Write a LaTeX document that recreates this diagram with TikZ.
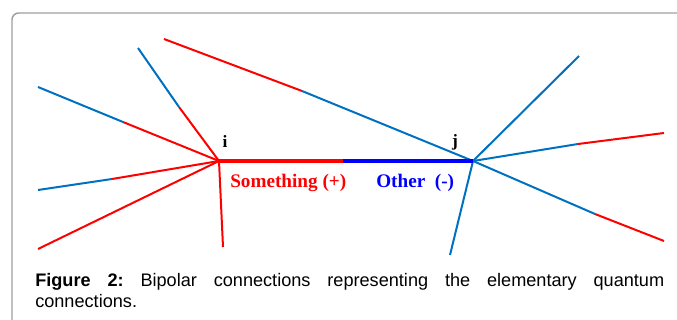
\documentclass[tikz,border=0pt]{standalone}
\usepackage{fontspec}
\setmainfont{Liberation Serif}
\setsansfont{Liberation Sans}
\usepackage{tikz}
\usetikzlibrary{calc,positioning}
\definecolor{linjeblaa}{RGB}{0,112,192}
\tikzset{
    roed/.style={
           draw=red,
           line width=1.5pt},
    blaa/.style={
           draw=linjeblaa,
           line width=1.5pt},
    midt/.style={
           line width=2.4pt},
    etikett/.style={
           font=\fontsize{14.4pt}{16pt}\selectfont\bfseries,
           inner sep=0pt},
    bokstav/.style={
           font=\fontsize{13pt}{15pt}\selectfont\bfseries,
           inner sep=0pt}
}

\begin{document}
\frenchspacing
\begin{tikzpicture}[x=0.75pt,y=-0.75pt]
          \useasboundingbox (0,0) rectangle (677,320);
          \draw[black!38, line width=1.1pt, rounded corners=5pt] (12,320) -- (12,13) -- (677,13);
          % the two poles
          \coordinate (pi) at (219,161);
          \coordinate (pj) at (473,161);
          \coordinate (pm) at (343,161);
          \node[bokstav, anchor=base] (li) at (225,148) {i};
          \node[bokstav, anchor=base] (lj) at (455,147) {j};
          % free ends round i
          \coordinate (a1) at (38,87);   \coordinate (s1) at (123,122);
          \coordinate (a2) at (138,48);  \coordinate (s2) at (179,107);
          \coordinate (a3) at (38,190);  \coordinate (s3) at (112,179);
          \coordinate (a4) at (38,249);
          \coordinate (a5) at (223,247);
          % free ends round j
          \coordinate (b1) at (164,39);  \coordinate (t1) at (302,91);
          \coordinate (b2) at (579,56);
          \coordinate (b3) at (664,133); \coordinate (t3) at (578,144);
          \coordinate (b4) at (664,241); \coordinate (t4) at (595,214);
          \coordinate (b5) at (450,255);
          \draw[roed] (pi) -- (s1);
          \draw[blaa] (s1) -- (a1);
          \draw[roed] (pi) -- (s2);
          \draw[blaa] (s2) -- (a2);
          \draw[roed] (pi) -- (s3);
          \draw[blaa] (s3) -- (a3);
          \draw[roed] (pi) -- (a4);
          \draw[roed] (pi) -- (a5);
          \draw[blaa] (pj) -- (t1);
          \draw[roed] (t1) -- (b1);
          \draw[blaa] (pj) -- (b2);
          \draw[blaa] (pj) -- (t3);
          \draw[roed] (t3) -- (b3);
          \draw[blaa] (pj) -- (t4);
          \draw[roed] (t4) -- (b4);
          \draw[blaa] (pj) -- (b5);
          \draw[roed, midt] (pi) -- (pm);
          \draw[blaa, midt, draw=blue] (pm) -- (pj);
          \node[etikett, red, anchor=base west] (pluss) at (230,188) {Something (+)};
          \node[etikett, blue, anchor=base west] (minus) at (376,188) {Other\ \ (-)};
          % caption
          \node[anchor=north west, text width=471.75pt, align=justify, inner sep=0pt,
                font=\sffamily\fontsize{13.6pt}{16pt}\selectfont] (figtekst) at (35,273)
                {\textbf{Figure 2:} Bipolar connections representing the elementary quantum\linebreak connections.};
\end{tikzpicture}
\end{document}
